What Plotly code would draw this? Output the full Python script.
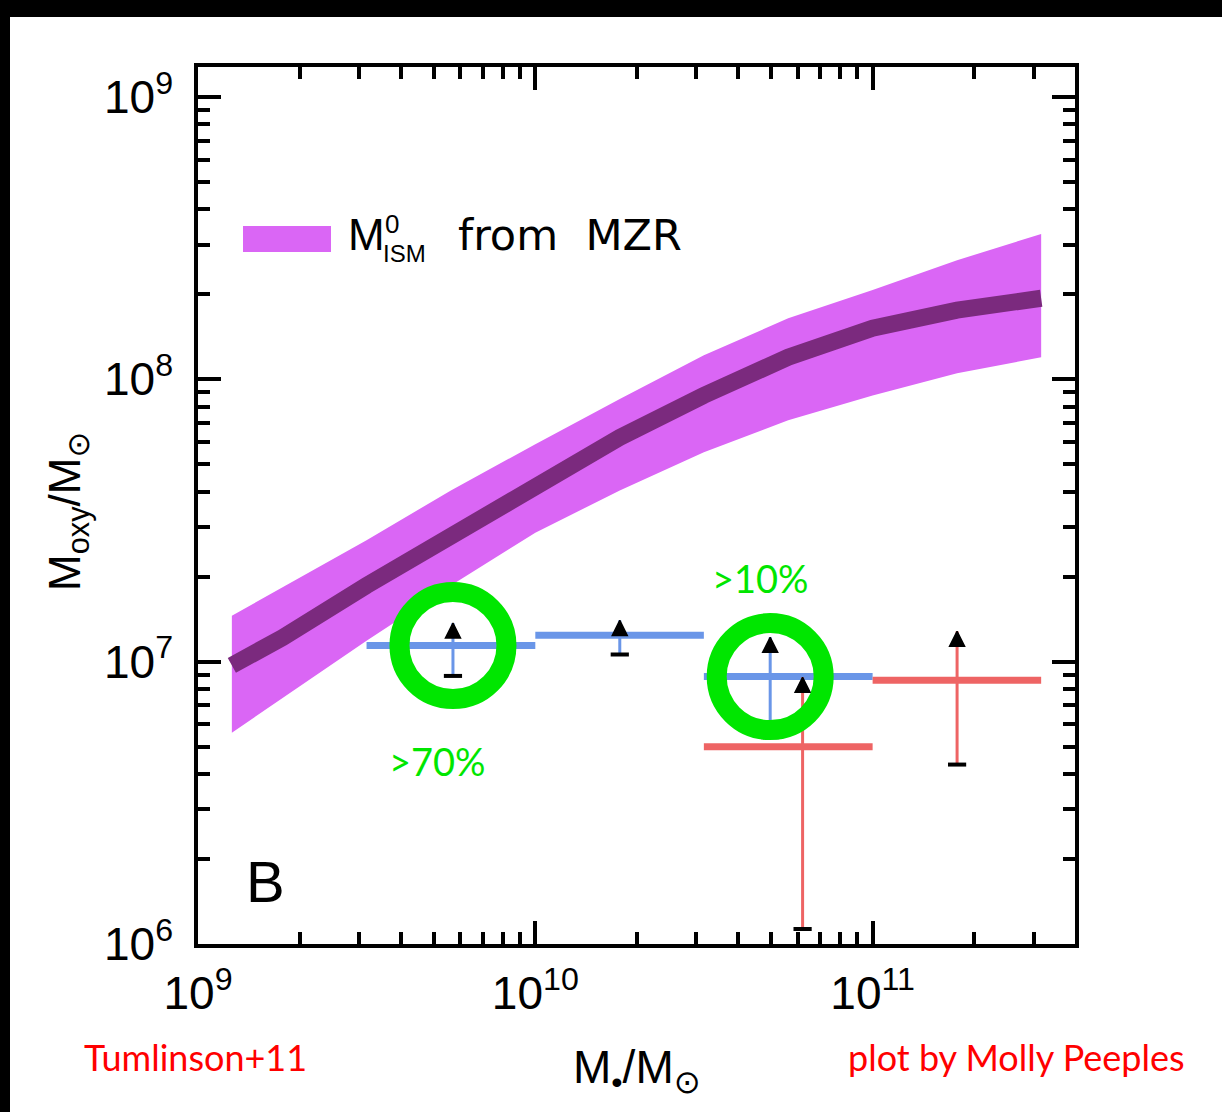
import math
import plotly.graph_objects as go

# ---- ISM oxygen mass expected from the mass-metallicity relation ----
band_mstar = [1.26e9, 1.78e9, 3.16e9, 5.62e9, 1.0e10, 1.78e10,
              3.16e10, 5.62e10, 1.0e11, 1.78e11, 3.16e11]
band_upper = [1.455e7, 1.83e7, 2.69e7, 4.04e7, 5.89e7, 8.51e7,
              1.216e8, 1.644e8, 2.07e8, 2.64e8, 3.27e8]
band_mid = [9.7e6, 1.216e7, 1.862e7, 2.80e7, 4.21e7, 6.22e7,
            8.77e7, 1.197e8, 1.517e8, 1.758e8, 1.936e8]
band_lower = [5.6e6, 7.41e6, 1.186e7, 1.862e7, 2.86e7, 4.04e7,
              5.51e7, 7.16e7, 8.77e7, 1.05e8, 1.197e8]

# ---- CGM oxygen, star-forming galaxies (lower limits) ----
sf_bin_lo = [3.16e9, 1.0e10, 3.16e10]
sf_bin_hi = [1.0e10, 3.16e10, 1.0e11]
sf_mstar = [5.7e9, 1.78e10, 4.97e10]
sf_moxy = [1.14e7, 1.24e7, 8.85e6]
sf_err_low = [8.9e6, 1.06e7, 5.4e6]
sf_err_high = [1.37e7, 1.40e7, 1.22e7]

# ---- CGM oxygen, passive galaxies (lower limits) ----
pa_bin_lo = [3.16e10, 1.0e11]
pa_bin_hi = [1.0e11, 3.16e11]
pa_mstar = [6.2e10, 1.78e11]
pa_moxy = [5.0e6, 8.6e6]
pa_err_low = [1.13e6, 4.32e6]
pa_err_high = [8.8e6, 1.28e7]

# highlighted star-forming bins and their labels
hl_index = [0, 2]
hl_labels = [">70%", ">10%"]

x_range = [9.0, 11.6]
y_range = [6.0, 9.106]
x_major = [1e9, 1e10, 1e11]
x_major_text = ["10<sup>9</sup>", "10<sup>10</sup>", "10<sup>11</sup>"]
y_major = [1e6, 1e7, 1e8, 1e9]
y_major_text = ["10<sup>6</sup>", "10<sup>7</sup>", "10<sup>8</sup>", "10<sup>9</sup>"]

W, H = 1222, 1112
ML, MR, MT, MB = 198, 147, 67, 168
PW, PH = W - ML - MR, H - MT - MB

BAND = "#DA66F5"
BAND_MID = "#7B2A7E"
BLUE = "#6A96E8"
RED = "#EE6464"
GREEN = "#00E600"
LABEL_FONT = "Liberation Sans, Arial, DejaVu Sans, sans-serif"
NOTE_FONT = "Lato, Open Sans, sans-serif"


def px(xp):
    return (xp - ML) / PW


def py(yp):
    return (MT + PH - yp) / PH


def minor_vals(lo_exp, hi_exp):
    vals = []
    for d in range(lo_exp, hi_exp + 1):
        for k in range(2, 10):
            vals.append(k * 10 ** d)
    return vals


fig = go.Figure()

# shaded MZR band
fig.add_trace(go.Scatter(
    x=band_mstar + band_mstar[::-1],
    y=band_upper + band_lower[::-1],
    fill="toself", fillcolor=BAND, mode="lines",
    line=dict(width=0, color=BAND), hoverinfo="skip",
))
fig.add_trace(go.Scatter(
    x=band_mstar, y=band_mid, mode="lines",
    line=dict(width=17, color=BAND_MID),
))


def add_group(bin_lo, bin_hi, xc, val, lo, hi, color):
    bx, by, sx, sy = [], [], [], []
    for a, b, x, v, l, h in zip(bin_lo, bin_hi, xc, val, lo, hi):
        bx += [a, b, None]
        by += [v, v, None]
        sx += [x, x, None]
        sy += [l, h, None]
    # vertical range of each limit
    fig.add_trace(go.Scatter(x=sx, y=sy, mode="lines",
                             line=dict(width=3, color=color)))
    # mass bin extent
    fig.add_trace(go.Scatter(x=bx, y=by, mode="lines",
                             line=dict(width=7, color=color)))
    # lower caps
    fig.add_trace(go.Scatter(
        x=xc, y=lo, mode="markers",
        marker=dict(symbol="line-ew", size=13,
                    line=dict(width=4, color="black")),
    ))
    # upward arrows marking lower limits
    fig.add_trace(go.Scatter(
        x=xc, y=hi, mode="markers",
        marker=dict(symbol="arrow-up", size=15, color="black",
                    line=dict(width=1.5, color="black")),
    ))


add_group(sf_bin_lo, sf_bin_hi, sf_mstar, sf_moxy, sf_err_low, sf_err_high, BLUE)
add_group(pa_bin_lo, pa_bin_hi, pa_mstar, pa_moxy, pa_err_low, pa_err_high, RED)

# rings around highlighted bins
fig.add_trace(go.Scatter(
    x=[sf_mstar[i] for i in hl_index],
    y=[sf_moxy[i] for i in hl_index],
    mode="markers",
    marker=dict(symbol="circle-open", size=107, color=GREEN,
                line=dict(width=20, color=GREEN)),
))

axis_common = dict(
    type="log", showline=True, linewidth=3.5, linecolor="black",
    mirror="ticks", ticks="inside", ticklen=23, tickwidth=3.5,
    tickcolor="black", showgrid=False, zeroline=False,
    tickfont=dict(family=LABEL_FONT, size=46, color="black"),
)

fig.update_xaxes(
    range=x_range, tickmode="array", tickvals=x_major, ticktext=x_major_text,
    ticklabelstandoff=6,
    minor=dict(ticks="inside", ticklen=12, tickwidth=3.5, tickcolor="black",
               tickvals=minor_vals(9, 11), showgrid=False),
    **axis_common,
)
fig.update_yaxes(
    range=y_range, tickmode="array", tickvals=y_major, ticktext=y_major_text,
    ticklabelstandoff=12,
    minor=dict(ticks="inside", ticklen=12, tickwidth=3.5, tickcolor="black",
               tickvals=minor_vals(6, 8), showgrid=False),
    **axis_common,
)


def note(xp, yp, text, size, color="black", family=LABEL_FONT,
         xanchor="center", angle=0):
    return dict(x=px(xp), y=py(yp), xref="paper", yref="paper", text=text,
                showarrow=False, xanchor=xanchor, yanchor="middle",
                textangle=angle,
                font=dict(family=family, size=size, color=color))


annotations = []
# percentage labels next to the ringed bins
for i, lab, (dx, dy) in zip(hl_index, hl_labels, [(-15, -115), (-10, 99)]):
    annotations.append(dict(
        x=math.log10(sf_mstar[i]), y=math.log10(sf_moxy[i]), xref="x", yref="y",
        text=lab, showarrow=False, xshift=dx, yshift=dy,
        xanchor="center", yanchor="middle",
        font=dict(family=NOTE_FONT, size=38, color=GREEN),
    ))

# panel letter
annotations.append(note(265, 881, "B", 58))

# legend entry
annotations += [
    note(346, 235, "M", 44, xanchor="left"),
    note(383, 224, "0", 26, xanchor="left"),
    note(381, 253, "ISM", 24, xanchor="left"),
    note(456, 235, "from  MZR", 43, family="DejaVu Sans, sans-serif",
         xanchor="left"),
]

# axis titles
annotations.append(note(68, 512, "M<sub>oxy</sub>/M<sub>⊙</sub>", 44, angle=-90))
annotations.append(note(637, 1070, "M<sub>•</sub>/M<sub>⊙</sub>", 46))

# credits
annotations.append(note(82, 1057, "Tumlinson+11", 36, color="#FF0000",
                        family=NOTE_FONT, xanchor="left"))
annotations.append(note(1187, 1057, "plot by Molly Peeples", 36, color="#FF0000",
                        family=NOTE_FONT, xanchor="right"))

shapes = [
    # legend swatch
    dict(type="rect", xref="paper", yref="paper",
         x0=px(243), x1=px(331), y0=py(252), y1=py(226),
         fillcolor=BAND, line=dict(width=0)),
    # slide frame edges
    dict(type="rect", xref="paper", yref="paper",
         x0=px(0), x1=px(10), y0=py(H), y1=py(0),
         fillcolor="black", line=dict(width=0)),
    dict(type="rect", xref="paper", yref="paper",
         x0=px(0), x1=px(W), y0=py(17), y1=py(0),
         fillcolor="black", line=dict(width=0)),
]

fig.update_layout(
    width=W, height=H,
    margin=dict(l=ML, r=MR, t=MT, b=MB, pad=0),
    paper_bgcolor="white", plot_bgcolor="white",
    showlegend=False,
    annotations=annotations, shapes=shapes,
)

fig.write_html("out.html")
